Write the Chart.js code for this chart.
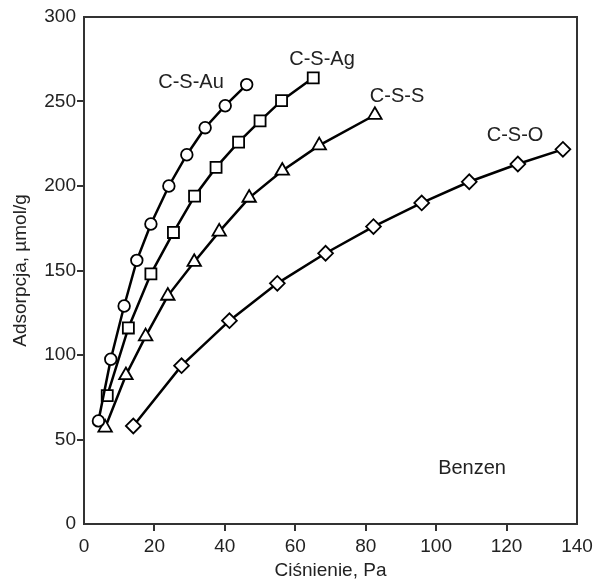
<!DOCTYPE html>
<html>
<head>
<meta charset="utf-8">
<script src="https://cdn.jsdelivr.net/npm/chart.js@4"></script>
<style>
  html, body { margin: 0; padding: 0; background: #fff; }
  #wrap { width: 597px; height: 580px; }
</style>
</head>
<body>
<div id="wrap"><canvas id="chart"></canvas></div>
<script>
// values
const auX = [4.1, 7.6, 11.4, 15.0, 19.0, 24.1, 29.2, 34.4, 40.1, 46.2];
const auY = [61, 97.5, 129, 156, 177.5, 200, 218.5, 234.5, 247.5, 260];

const agX = [6.6, 12.6, 19.0, 25.4, 31.4, 37.5, 43.9, 50.0, 56.1, 65.1];
const agY = [76, 116, 148, 172.5, 194, 211, 226, 238.5, 250.5, 264];

const sX = [6.0, 11.9, 17.5, 23.8, 31.3, 38.4, 46.9, 56.3, 66.8, 82.6];
const sY = [57, 88, 111, 135, 155, 173, 193, 209, 224, 242];

const oX = [14.0, 27.7, 41.3, 54.9, 68.6, 82.2, 95.9, 109.4, 123.2, 136.0];
const oY = [58, 93.7, 120.3, 142.4, 160.2, 176, 190, 202.5, 213, 221.7];

const seriesNames = ['C-S-Au', 'C-S-Ag', 'C-S-S', 'C-S-O'];
const labelX = [30.4, 67.6, 88.9, 122.4];
const labelY = [261, 274.6, 252.7, 229.6];
const noteText = 'Benzen';

const xTitle = 'Ciśnienie, Pa';
const yTitle = 'Adsorpcja, µmol/g';

const FONT = '"Liberation Sans", Arial, sans-serif';
const INK = '#222';

function pts(xs, ys) {
  return xs.map((x, i) => ({ x: x, y: ys[i] }));
}

function series(data, style, radius) {
  return {
    data: data,
    borderColor: '#000',
    borderWidth: 2.5,
    pointStyle: style,
    pointRadius: radius,
    pointBorderWidth: 1.8,
    pointBackgroundColor: '#fff',
    pointBorderColor: '#000',
    tension: 0
  };
}

// frame around the plot + series names
const annotate = {
  id: 'annotate',
  afterDatasetsDraw(chart) {
    const { ctx, chartArea: a, scales } = chart;
    ctx.save();
    ctx.strokeStyle = '#333';
    ctx.lineWidth = 2;
    ctx.strokeRect(a.left, a.top, a.right - a.left, a.bottom - a.top);
    ctx.fillStyle = INK;
    ctx.font = '20px ' + FONT;
    ctx.textAlign = 'center';
    ctx.textBaseline = 'middle';
    seriesNames.forEach((n, i) => {
      ctx.fillText(n, scales.x.getPixelForValue(labelX[i]), scales.y.getPixelForValue(labelY[i]));
    });
    ctx.fillText(noteText, scales.x.getPixelForValue(110.2), scales.y.getPixelForValue(33));
    ctx.restore();
  }
};

new Chart(document.getElementById('chart'), {
  type: 'line',
  data: {
    datasets: [
      series(pts(auX, auY), 'circle', 5.8),
      series(pts(agX, agY), 'rect', 7.8),
      series(pts(sX, sY), 'triangle', 7.8),
      series(pts(oX, oY), 'rectRot', 7.4)
    ]
  },
  options: {
    responsive: true,
    maintainAspectRatio: false,
    animation: false,
    layout: { padding: { top: 17, right: 20, left: 0, bottom: 0 } },
    plugins: { legend: { display: false }, tooltip: { enabled: false } },
    scales: {
      x: {
        type: 'linear',
        min: 0, max: 140,
        ticks: { stepSize: 20, color: INK, font: { family: FONT, size: 19 }, padding: 4 },
        grid: {
          drawOnChartArea: false,
          tickLength: 7,
          lineWidth: 2,
          color: (c) => (c.index === 0 || c.index === 7) ? 'rgba(0,0,0,0)' : '#333'
        },
        border: { display: false },
        title: { display: true, text: xTitle, color: INK, font: { family: FONT, size: 19 }, padding: { top: 0, bottom: -2 } },
        afterFit(s) { s.height = 56; }
      },
      y: {
        min: 0, max: 300,
        ticks: { stepSize: 50, color: INK, font: { family: FONT, size: 19 }, padding: 1 },
        grid: {
          drawOnChartArea: false,
          tickLength: 7,
          lineWidth: 2,
          color: (c) => (c.index === 0 || c.index === 6) ? 'rgba(0,0,0,0)' : '#333'
        },
        border: { display: false },
        title: { display: true, text: yTitle, color: INK, font: { family: FONT, size: 19 }, padding: { top: 9, bottom: 0 } },
        afterFit(s) { s.width = 84; }
      }
    }
  },
  plugins: [annotate]
});
</script>
</body>
</html>
